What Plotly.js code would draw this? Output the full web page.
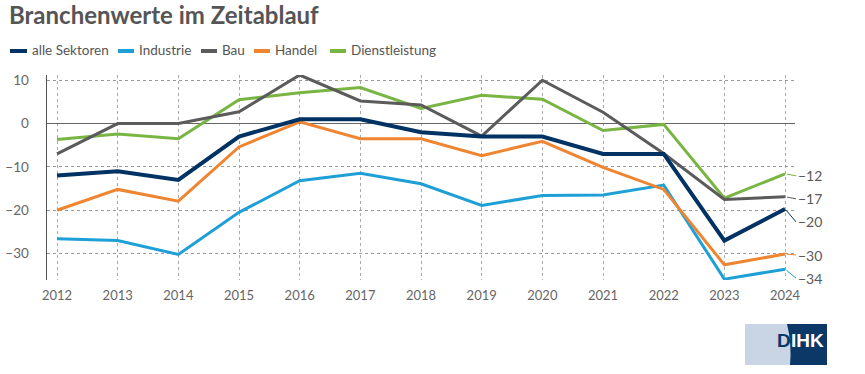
<!DOCTYPE html>
<html>
<head>
<meta charset="utf-8">
<script src="https://cdn.plot.ly/plotly-3.0.1.min.js"></script>
<style>html,body{margin:0;padding:0;background:#fff;}#chart{width:865px;height:374px;}</style>
</head>
<body>
<div id="chart"></div>
<script>
const years = [2012,2013,2014,2015,2016,2017,2018,2019,2020,2021,2022,2023,2024];
const seriesNames = ['alle Sektoren','Industrie','Bau','Handel','Dienstleistung'];
const alleSektoren   = [-12,-11,-13,-3,1,1,-2,-3,-3,-7,-7,-27,-19.7];
const industrie      = [-26.6,-27,-30.2,-20.5,-13.2,-11.5,-13.9,-18.9,-16.6,-16.5,-14.2,-35.9,-33.6];
const bau            = [-7,0,0,2.7,11.2,5.2,4.3,-2.9,10,2.6,-6.9,-17.5,-16.9];
const handel         = [-20,-15.2,-17.9,-5.4,0.4,-3.5,-3.5,-7.4,-4.1,-10.1,-15.2,-32.6,-30.1];
const dienstleistung = [-3.7,-2.4,-3.5,5.5,7.1,8.3,3.5,6.5,5.6,-1.6,-0.2,-17.2,-11.6];
const yTicks = [10,0,-10,-20,-30];

const colors = ['#003263','#1ea0d6','#5b5b5b','#ef8530','#79b543'];
const widths = [4,3,3,3,3];
const values = [alleSektoren,industrie,bau,handel,dienstleistung];
// end label vertical offsets (px)
const labelDy = [13,9,2,1,2];
// custom legend layout (px): symbol start, symbol end, text start
const legendPos = [[10,27,30],[118,134,137],[201,217,220],[254,270,273],[330,346,349]];

const traces = values.map((v,i)=>({
  x: years, y: v, name: seriesNames[i], type:'scatter', mode:'lines',
  line:{color:colors[i], width:widths[i]}, hoverinfo:'skip', showlegend:false
}));
const drawOrder = [1,3,4,2,0];
const data = drawOrder.map(i=>traces[i]);

const L=47, R=795, T=75, B=280;
const px = x => (x-L)/(R-L);
const py = y => (B-y)/(B-T);

const endLabels = values.map((v,i)=>({
  x: years[years.length-1], y: v[v.length-1], xref:'x', yref:'y',
  text: '\u2212' + Math.abs(Math.round(v[v.length-1])),
  showarrow:true, arrowhead:0, arrowwidth:1, arrowcolor:colors[i],
  ax: 11, ay: labelDy[i], xanchor:'left', yanchor:'middle', standoff:2,
  font:{family:'Lato, sans-serif', size:14, color:'#5a5a5a'}
}));

const legendShapes = seriesNames.map((n,i)=>({
  type:'line', xref:'paper', yref:'paper', x0:px(legendPos[i][0]), x1:px(legendPos[i][1]),
  y0:py(51), y1:py(51), line:{color:colors[i], width:4}
}));
const legendTexts = seriesNames.map((n,i)=>({
  xref:'paper', yref:'paper', x:px(legendPos[i][2]), y:py(50), xanchor:'left', yanchor:'middle',
  showarrow:false, text:n, font:{family:'Lato, sans-serif', size:13.5, color:'#555'}
}));

const layout = {
  width:865, height:374,
  margin:{l:L, r:865-R, t:T, b:374-B, pad:0},
  paper_bgcolor:'#fff', plot_bgcolor:'#fff',
  font:{family:'Lato, sans-serif', color:'#666'},
  title:{text:'<b>Branchenwerte im Zeitablauf</b>', x:9/865, xref:'container', xanchor:'left',
    y:1-16/374, yref:'container', yanchor:'middle',
    font:{family:'Lato, sans-serif', size:24, color:'#555'}},
  showlegend:false,
  xaxis:{range:[2011.835,2024.164], tickvals:years, ticktext:years.map(String), automargin:false,
    showgrid:true, gridcolor:'#aaa', griddash:'dot', gridwidth:1,
    zeroline:false, showline:false, ticks:'', ticklabelstandoff:6,
    tickfont:{size:13, color:'#666'}, fixedrange:true},
  yaxis:{range:[-36.1,11.2], tickvals:yTicks, automargin:false, showgrid:true, gridcolor:'#999', griddash:'dot', gridwidth:1,
    zeroline:true, zerolinecolor:'#666', zerolinewidth:1.5,
    showline:true, linecolor:'#555', linewidth:1.5, ticks:'', ticklabelstandoff:14,
    tickfont:{size:13.5, color:'#666'}, fixedrange:true},
  shapes: legendShapes.concat([
    {type:'rect', xref:'paper', yref:'paper', x0:px(745), x1:px(827), y0:py(324), y1:py(365),
      fillcolor:'#c9d5e4', line:{width:0}, layer:'above'},
    {type:'path', xref:'paper', yref:'paper',
      path:`M ${px(787)} ${py(324)} Q ${px(792)} ${py(344)} ${px(790)} ${py(365)} L ${px(827)} ${py(365)} L ${px(827)} ${py(324)} Z`,
      fillcolor:'#0b3867', line:{width:0}, layer:'above'}
  ]),
  annotations: endLabels.concat(legendTexts, [
    {xref:'paper', yref:'paper', x:px(792), y:py(340), xanchor:'right', yanchor:'middle', showarrow:false,
      text:'<b>D</b>', borderpad:0, font:{family:'Liberation Sans, Arial, sans-serif', size:19, color:'#0b3867'}},
    {xref:'paper', yref:'paper', x:px(790), y:py(340), xanchor:'left', yanchor:'middle', showarrow:false,
      text:'<b>IHK</b>', borderpad:0, font:{family:'Liberation Sans, Arial, sans-serif', size:19, color:'#ffffff'}}
  ])
};
Plotly.newPlot('chart', data, layout, {staticPlot:true, displayModeBar:false});
</script>
</body>
</html>
